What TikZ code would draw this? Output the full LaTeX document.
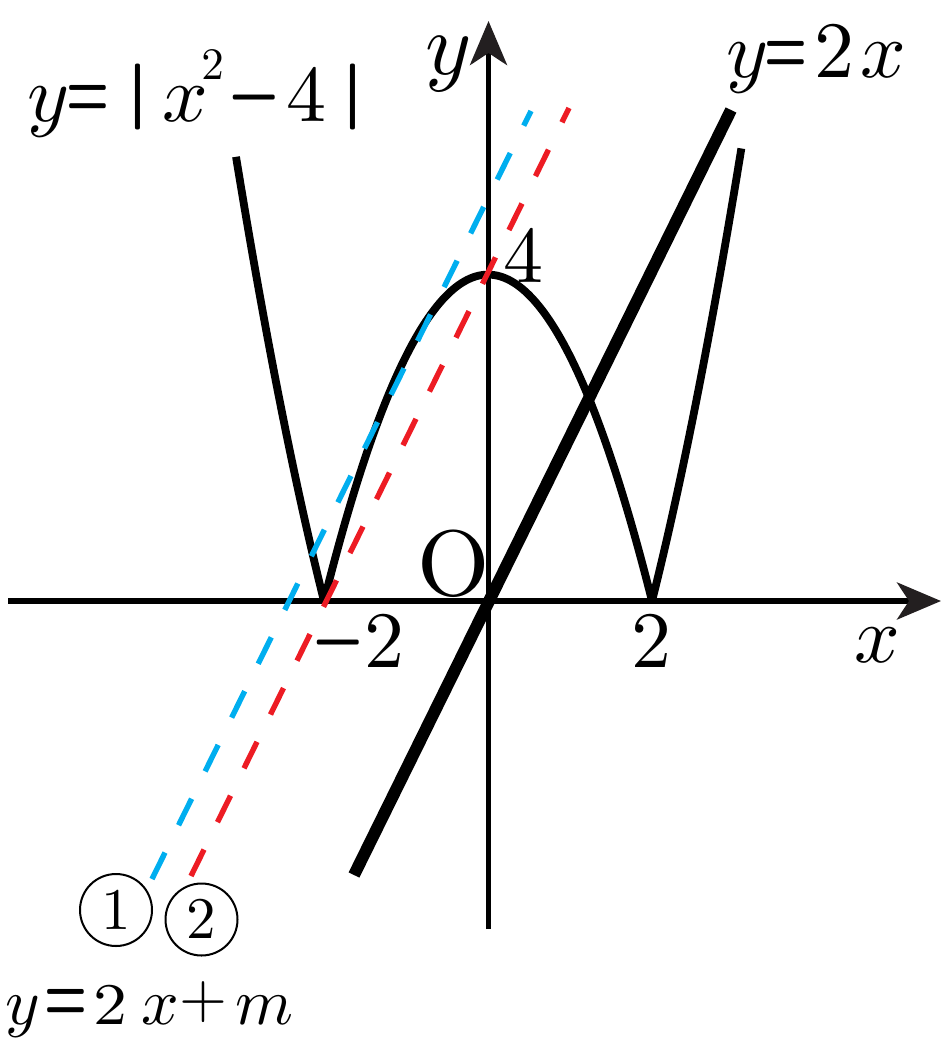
\documentclass[tikz,border=0pt]{standalone}
\usepackage{graphicx}
\usetikzlibrary{arrows.meta}
\definecolor{cblue}{HTML}{00AEEF}
\definecolor{cred}{HTML}{ED1C24}
\definecolor{agray}{HTML}{231F20}
\font\fMiBig=cmmi10 at 40pt
\font\fMiY=cmmi10 at 44pt
\font\fMiMid=cmmi10 at 33pt
\font\fRmBig=cmr10 at 40pt
\font\fRmO=cmr10 at 46.5pt
\font\fRmMid=cmr10 at 29.5pt
\font\fRmSup=cmr10 at 22.5pt
\font\fBxEq=cmbx10 at 24pt
\font\fRmPlus=cmr10 at 30.8pt
\font\fSyBar=cmsy10 at 33pt
\font\fSyMin=cmsy10 at 34.4pt
\newcommand\myeq{\scalebox{1}[1.7]{\fBxEq =}}
\newcommand\mymin{\scalebox{1}[1.8]{\fSyMin\char0}}
\newcommand\mybar{\scalebox{1.9}[1]{\fSyBar\char106}}
\tikzset{
  glyph/.style={anchor=base west, inner sep=0pt, outer sep=0pt},
  axisline/.style={line width=2.8pt, -{Stealth[length=22pt,width=18.5pt,inset=6pt,color=agray]}},
  curveline/.style={line width=3.9pt, line cap=butt, line join=round},
  boldline/.style={line width=6pt, line cap=butt},
  dashline/.style={line width=2.7pt, line cap=butt, dash pattern=on 14.75pt off 15.25pt},
  circnum/.style={circle, draw, line width=1pt, minimum size=36pt, inner sep=0pt, font=\fRmMid},
}
\begin{document}
\begin{tikzpicture}[x=0.5pt, y=-0.5pt]
\useasboundingbox (0,0) rectangle (942,1048);
% axes
\coordinate (xs) at (8,601);
\coordinate (xe) at (941,601);
\coordinate (ys) at (488.5,929);
\coordinate (ye) at (488.5,21);
\draw[axisline] (xs) -- (xe);
\draw[axisline] (ys) -- (ye);
% y = |x^2-4|
\begin{scope}[shift={(244pt,-300.5pt)}, x=41pt, y=40.8pt]
  \draw[curveline] plot[domain=-3.073:-2, samples=40] (\x,{\x*\x-4});
  \draw[curveline] plot[domain=-2:2, samples=120] (\x,{4-\x*\x});
  \draw[curveline] plot[domain=2:3.09, samples=40] (\x,{\x*\x-4});
\end{scope}
% y = 2x
\coordinate (k1) at (354,875);
\coordinate (k2) at (731,110);
\draw[boldline] (k1) -- (k2);
% dashed lines
\coordinate (b1) at (152,879);
\coordinate (b2) at (531,111);
\coordinate (r1) at (191,876);
\coordinate (r2) at (569,108);
\draw[dashline, cblue] (b1) -- (b2);
\draw[dashline, cred] (r1) -- (r2);
% label y=|x^2-4|
\node[glyph, font=\fMiBig] (a1) at (27.4,122) {y};
\node[glyph] (a2) at (66.3,117.1) {\myeq};
\node[glyph] (a3) at (120.1,113.5) {\mybar};
\node[glyph] (a4) at (162.6,122) {{\fMiBig x}\kern-3.5pt\raisebox{21pt}{\fRmSup 2}};
\node[glyph] (a6) at (227.2,128.1) {\mymin};
\node[glyph, font=\fRmBig] (a7) at (286.8,122) {4};
\node[glyph] (a8) at (335.1,113.5) {\mybar};
% label y=2x
\node[glyph, font=\fMiBig] (c1) at (726.4,78) {y};
\node[glyph] (c2) at (764.5,73.4) {\myeq};
\node[glyph, font=\fRmBig] (c3) at (814,78) {2};
\node[glyph, font=\fMiBig] (c4) at (860.6,78) {x};
% axis labels
\node[glyph, font=\fMiY] (ly) at (425,75) {y};
\node[glyph, font=\fMiBig] (lx) at (854.6,662) {x};
\node[glyph, font=\fRmO] (lO) at (417.8,595) {O};
\node[glyph] (lm) at (311.2,673.1) {\mymin};
\node[glyph, font=\fRmBig] (lm2) at (364,667) {2};
\node[glyph, font=\fRmBig] (l2) at (631,667) {2};
\node[glyph, font=\fRmBig] (l4) at (503.8,282) {4};
% circled numbers
\node[circnum] (n1) at (116,910) {1};
\node[circnum] (n2) at (201.5,919.5) {2};
% y=2x+m
\node[glyph, font=\fMiMid] (e1) at (5.4,1024) {y};
\node[glyph] (e2) at (44.2,1021.4) {\myeq};
\node[glyph] (e3) at (93.6,1024) {\scalebox{1.15}[1]{\fRmMid 2}};
\node[glyph, font=\fMiMid] (e4) at (141,1024) {x};
\node[glyph, font=\fRmPlus] (e5) at (179.5,1017.4) {+};
\node[glyph, font=\fMiMid] (e6) at (235.7,1024) {m};
\end{tikzpicture}
\end{document}
